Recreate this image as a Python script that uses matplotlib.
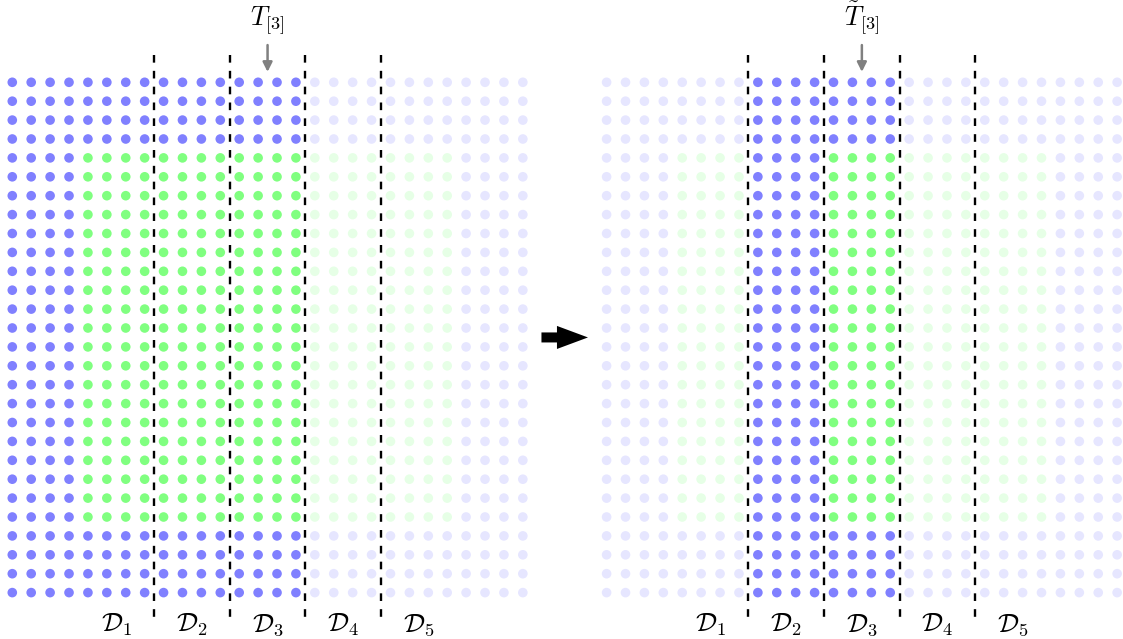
import numpy as np
import matplotlib
matplotlib.use('Agg')
import matplotlib.pyplot as plt

plt.rcParams['mathtext.fontset'] = 'cm'
plt.rcParams['lines.scale_dashes'] = False

# ---- data ----
section_widths = [8, 4, 4, 4, 8]
section_labels = [r'$\mathcal{D}_1$', r'$\mathcal{D}_2$', r'$\mathcal{D}_3$',
                  r'$\mathcal{D}_4$', r'$\mathcal{D}_5$']
n_rows = 28
green_rows = [4, 24]          # rows [start, end) of the green band
green_cols = [4, 24]          # columns [start, end) of the green band
left_active = [0, 1, 2]       # highlighted sections, left panel
right_active = [1, 2]         # highlighted sections, right panel
left_all_blue = []            # sections drawn entirely blue
right_all_blue = [1]
left_title = r'$T_{[3]}$'
right_title = r'$\tilde{T}_{[3]}$'
title_section = 2

colors = {'blue': '#8080ff', 'green': '#80ff80',
          'blue_faded': '#e6e6ff', 'green_faded': '#e6ffe6'}

# ---- layout ----
right_offset = 31.43
fig = plt.figure(figsize=(11.23, 6.39), dpi=100)
ax = fig.add_axes([0, 0, 1, 1])
ax.set_xlim(-0.650, 58.74)
ax.set_ylim(29.455, -4.354)
ax.axis('off')

n_cols = sum(section_widths)
sec_of_col = np.repeat(np.arange(len(section_widths)), section_widths)
edges = np.cumsum(section_widths)[:-1] - 0.5
label_x = [edges[0] - 2] + [e + 2 for e in edges]


def draw_panel(offset, active, all_blue, title):
    xs, ys, cs = [], [], []
    for c in range(n_cols):
        s = sec_of_col[c]
        for r in range(n_rows):
            green = (green_rows[0] <= r < green_rows[1] and
                     green_cols[0] <= c < green_cols[1] and s not in all_blue)
            key = 'green' if green else 'blue'
            if s not in active:
                key += '_faded'
            xs.append(c + offset)
            ys.append(r)
            cs.append(colors[key])
    ax.scatter(xs, ys, s=48, c=cs, linewidths=0, zorder=2)
    for e in edges:
        ax.plot([e + offset, e + offset], [-1.44, 28.44], color='black',
                lw=1.7, linestyle=(0, (5.5, 5.9)), zorder=3,
                solid_capstyle='butt', dash_capstyle='butt')
    for lx, lab in zip(label_x, section_labels):
        ax.text(lx + offset, 29.08, lab, ha='center', va='baseline',
                fontsize=19)
    tx = label_x[title_section] + offset
    ax.text(tx, -2.98, title, ha='center', va='baseline', fontsize=19)
    ax.annotate('', xy=(tx, -0.55), xytext=(tx, -1.97),
                arrowprops=dict(arrowstyle='-|>', color='#808080', lw=1.8,
                                mutation_scale=14, shrinkA=0, shrinkB=0))


draw_panel(0, left_active, left_all_blue, left_title)
draw_panel(right_offset, right_active, right_all_blue, right_title)

# transition arrow
mid_x = (n_cols - 1 + right_offset) / 2
mid_y = (n_rows - 1) / 2
ax.arrow(mid_x - 1.23, mid_y, 2.46, 0, width=0.53, head_width=1.22,
         head_length=1.64, length_includes_head=True, color='black', lw=0)

fig.savefig('out.png', dpi=100)
